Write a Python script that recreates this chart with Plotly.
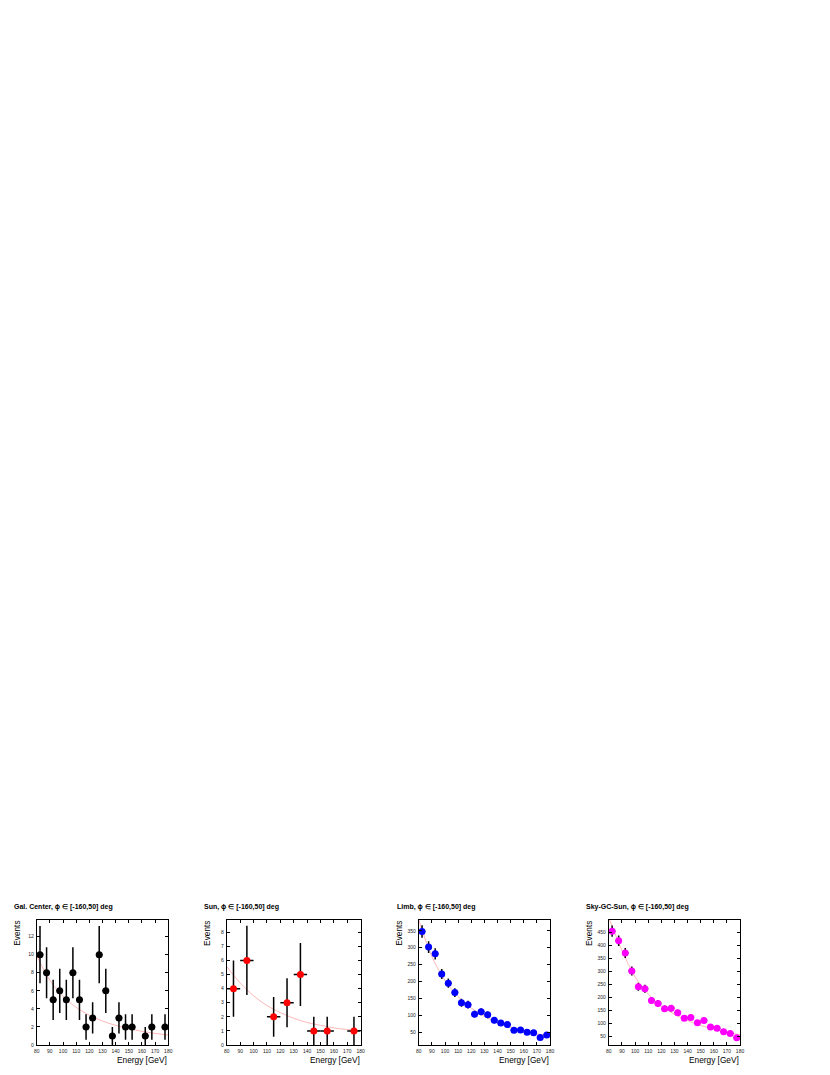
import numpy as np
import plotly.graph_objects as go

W, H = 830, 1075

# ---------------- data ----------------
titles = ["Gal. Center, ϕ ∈ [-160,50] deg", "Sun, ϕ ∈ [-160,50] deg",
          "Limb, ϕ ∈ [-160,50] deg", "Sky-GC-Sun, ϕ ∈ [-160,50] deg"]

gc_x = [82.5, 87.5, 92.5, 97.5, 102.5, 107.5, 112.5, 117.5, 122.5, 127.5,
        132.5, 137.5, 142.5, 147.5, 152.5, 162.5, 167.5, 177.5]
gc_y = [10, 8, 5, 6, 5, 8, 5, 2, 3, 10, 6, 1, 3, 2, 2, 1, 2, 2]

sun_x = [85, 95, 115, 125, 135, 145, 155, 175]
sun_y = [4, 6, 2, 3, 5, 1, 1, 1]

limb_x = [82.5, 87.5, 92.5, 97.5, 102.5, 107.5, 112.5, 117.5, 122.5, 127.5,
          132.5, 137.5, 142.5, 147.5, 152.5, 157.5, 162.5, 167.5, 172.5, 177.5]
limb_y = [348, 302, 282, 222, 195, 167, 137, 131, 103, 110,
          101, 85, 77, 72, 55, 56, 49, 48, 34, 41]

sky_x = limb_x
sky_y = [454, 417, 370, 301, 240, 232, 187, 176, 155, 157,
         140, 119, 122, 101, 110, 85, 80, 67, 60, 44]

# fit curves
fit_x = [80, 90, 100, 110, 120, 130, 140, 150, 160, 170, 180]
gc_fit = [9.86, 7.17, 5.40, 4.17, 3.30, 2.66, 2.18, 1.81, 1.52, 1.29, 1.10]
sun_fit = [5.57, 4.4, 3.5, 2.8, 2.3, 1.9, 1.6, 1.4, 1.22, 1.1, 1.03]
limb_fit = [383, 274, 203, 155, 121, 96.5, 78.2, 64.3, 53.5, 45.0, 38.3]
sky_fit = [505, 380, 278, 212, 166, 134, 110, 91, 77, 65, 55]

x_ticks = [80, 90, 100, 110, 120, 130, 140, 150, 160, 170, 180]
gc_yticks = [0, 2, 4, 6, 8, 10, 12]
sun_yticks = [0, 1, 2, 3, 4, 5, 6, 7, 8]
limb_yticks = [50, 100, 150, 200, 250, 300, 350]
sky_yticks = [50, 100, 150, 200, 250, 300, 350, 400, 450]

colors = ["black", "red", "blue", "magenta"]

# ---------------- layout geometry (pixels) ----------------
boxes = [(34, 166.7), (225.7, 360.7), (419.3, 551.7), (611, 743.3)]
top_px, bot_px = 922.5, 1048
yranges = [[0, 13.84], [0, 8.87], [11.3, 382.5], [15.5, 497.2]]
title_x = [9, 201, 395, 586]

def px(x):
    return x / W

def py(y):
    return 1 - y / H

panels = [
    (gc_x, gc_y, 2.5, gc_fit, gc_yticks),
    (sun_x, sun_y, 5.0, sun_fit, sun_yticks),
    (limb_x, limb_y, 2.5, limb_fit, limb_yticks),
    (sky_x, sky_y, 2.5, sky_fit, sky_yticks),
]

fig = go.Figure()
annotations = []
layout_axes = {}
for i, (xs, ys, xerr, fit, yt) in enumerate(panels):
    n = i + 1
    xa = "x" if n == 1 else f"x{n}"
    ya = "y" if n == 1 else f"y{n}"
    fig.add_trace(go.Scatter(
        x=fit_x, y=fit, mode="lines", line=dict(color="rgba(255,90,90,0.55)", width=0.8, shape="spline"),
        xaxis=xa, yaxis=ya, showlegend=False, hoverinfo="skip"))
    errs = list(np.sqrt(np.array(ys, dtype=float)))
    fig.add_trace(go.Scatter(
        x=xs, y=ys, mode="markers",
        marker=dict(color=colors[i], size=7, line=dict(width=0)),
        error_y=dict(type="data", array=errs, color="black", thickness=1.5, width=0),
        error_x=dict(type="constant", value=xerr, color="black", thickness=1.5, width=0),
        xaxis=xa, yaxis=ya, showlegend=False))
    x0, x1 = boxes[i]
    axcommon = dict(showline=True, linecolor="black", linewidth=1, mirror="ticks",
                    ticks="inside", ticklen=3, tickcolor="black", tickwidth=1,
                    showgrid=False, zeroline=False,
                    tickfont=dict(family="Liberation Sans, Arial", size=5, color="#222"))
    layout_axes["xaxis" if n == 1 else f"xaxis{n}"] = dict(
        domain=[px(x0), px(x1)], range=[80, 180], anchor=ya,
        tickmode="array", tickvals=x_ticks, ticktext=[str(v) for v in x_ticks],
        ticklabelstandoff=1, **axcommon)
    layout_axes["yaxis" if n == 1 else f"yaxis{n}"] = dict(
        domain=[py(bot_px), py(top_px)], range=yranges[i], anchor=xa,
        tickmode="array", tickvals=yt, ticktext=[str(v) for v in yt],
        ticklabelstandoff=1, **axcommon)
    annotations.append(dict(
        text="<b>" + titles[i] + "</b>", x=px(title_x[i]), y=py(910), xref="paper", yref="paper",
        xanchor="left", yanchor="middle", showarrow=False,
        font=dict(family="Liberation Sans, Arial", size=7, color="black")))
    annotations.append(dict(
        text="Events", x=px(x0 - 19.5), y=py(921.5), xref="paper", yref="paper",
        xanchor="center", yanchor="top", textangle=-90, showarrow=False,
        font=dict(family="Liberation Sans, Arial", size=8.3, color="black")))
    annotations.append(dict(
        text="Energy [GeV]", x=px(x1 + 1), y=py(1063), xref="paper", yref="paper",
        xanchor="right", yanchor="middle", showarrow=False,
        font=dict(family="Liberation Sans, Arial", size=8.3, color="black")))

fig.update_layout(
    width=W, height=H, margin=dict(l=0, r=0, t=0, b=0),
    paper_bgcolor="white", plot_bgcolor="white",
    annotations=annotations, **layout_axes)

fig.write_html("out.html", config={"displayModeBar": False},
               post_script="document.body.style.margin='0';document.body.style.padding='0';")
